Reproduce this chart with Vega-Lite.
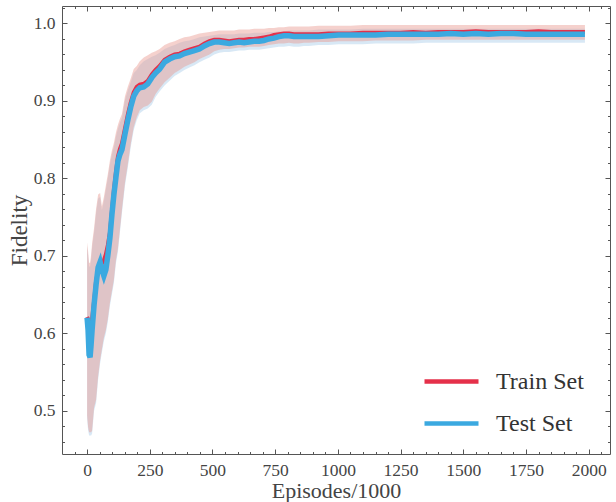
{
  "$schema": "https://vega.github.io/schema/vega-lite/v6.json",
  "width": 548,
  "height": 448,
  "autosize": "none",
  "padding": {"left": 62, "top": 6, "right": 6, "bottom": 48},
  "config": {
    "font": "Liberation Serif",
    "view": {"stroke": "#555", "strokeWidth": 1},
    "axis": {"domain": false, "grid": false, "tickColor": "#555", "labelColor": "#444", "titleColor": "#444", "labelFont": "Liberation Serif", "titleFont": "Liberation Serif", "labelFontSize": 17.5, "titleFontSize": 23, "titleFontWeight": "normal"},
    "legend": {"labelFont": "Liberation Serif"}
  },
  "data": {"values": [
    {"ep": 0, "train": 0.621, "test": 0.620, "tlo": 0.494, "thi": 0.717, "vlo": 0.490, "vhi": 0.712},
    {"ep": 4, "train": 0.618, "test": 0.604, "tlo": 0.479, "thi": 0.706, "vlo": 0.475, "vhi": 0.701},
    {"ep": 8, "train": 0.612, "test": 0.572, "tlo": 0.472, "thi": 0.691, "vlo": 0.468, "vhi": 0.686},
    {"ep": 12, "train": 0.606, "test": 0.569, "tlo": 0.472, "thi": 0.691, "vlo": 0.468, "vhi": 0.686},
    {"ep": 16, "train": 0.610, "test": 0.585, "tlo": 0.472, "thi": 0.701, "vlo": 0.468, "vhi": 0.696},
    {"ep": 20, "train": 0.618, "test": 0.604, "tlo": 0.474, "thi": 0.716, "vlo": 0.470, "vhi": 0.711},
    {"ep": 28, "train": 0.642, "test": 0.637, "tlo": 0.504, "thi": 0.736, "vlo": 0.500, "vhi": 0.731},
    {"ep": 36, "train": 0.668, "test": 0.663, "tlo": 0.514, "thi": 0.761, "vlo": 0.510, "vhi": 0.756},
    {"ep": 44, "train": 0.680, "test": 0.685, "tlo": 0.544, "thi": 0.779, "vlo": 0.540, "vhi": 0.774},
    {"ep": 52, "train": 0.686, "test": 0.692, "tlo": 0.565, "thi": 0.781, "vlo": 0.561, "vhi": 0.776},
    {"ep": 59, "train": 0.690, "test": 0.682, "tlo": 0.579, "thi": 0.764, "vlo": 0.575, "vhi": 0.759},
    {"ep": 67, "train": 0.694, "test": 0.674, "tlo": 0.594, "thi": 0.776, "vlo": 0.590, "vhi": 0.771},
    {"ep": 75, "train": 0.702, "test": 0.682, "tlo": 0.604, "thi": 0.791, "vlo": 0.600, "vhi": 0.786},
    {"ep": 83, "train": 0.714, "test": 0.701, "tlo": 0.619, "thi": 0.806, "vlo": 0.615, "vhi": 0.801},
    {"ep": 91, "train": 0.730, "test": 0.723, "tlo": 0.639, "thi": 0.823, "vlo": 0.635, "vhi": 0.818},
    {"ep": 99, "train": 0.758, "test": 0.753, "tlo": 0.654, "thi": 0.836, "vlo": 0.650, "vhi": 0.831},
    {"ep": 107, "train": 0.785, "test": 0.779, "tlo": 0.669, "thi": 0.846, "vlo": 0.665, "vhi": 0.841},
    {"ep": 115, "train": 0.808, "test": 0.801, "tlo": 0.694, "thi": 0.859, "vlo": 0.690, "vhi": 0.854},
    {"ep": 123, "train": 0.828, "test": 0.822, "tlo": 0.709, "thi": 0.869, "vlo": 0.705, "vhi": 0.864},
    {"ep": 131, "train": 0.838, "test": 0.831, "tlo": 0.734, "thi": 0.877, "vlo": 0.730, "vhi": 0.872},
    {"ep": 139, "train": 0.845, "test": 0.837, "tlo": 0.759, "thi": 0.883, "vlo": 0.755, "vhi": 0.878},
    {"ep": 151, "train": 0.864, "test": 0.857, "tlo": 0.794, "thi": 0.906, "vlo": 0.790, "vhi": 0.901},
    {"ep": 163, "train": 0.883, "test": 0.876, "tlo": 0.819, "thi": 0.919, "vlo": 0.815, "vhi": 0.914},
    {"ep": 174, "train": 0.898, "test": 0.892, "tlo": 0.844, "thi": 0.929, "vlo": 0.840, "vhi": 0.924},
    {"ep": 186, "train": 0.911, "test": 0.906, "tlo": 0.866, "thi": 0.941, "vlo": 0.862, "vhi": 0.936},
    {"ep": 198, "train": 0.918, "test": 0.913, "tlo": 0.879, "thi": 0.945, "vlo": 0.875, "vhi": 0.940},
    {"ep": 210, "train": 0.921, "test": 0.917, "tlo": 0.888, "thi": 0.951, "vlo": 0.884, "vhi": 0.946},
    {"ep": 226, "train": 0.922, "test": 0.918, "tlo": 0.892, "thi": 0.956, "vlo": 0.888, "vhi": 0.951},
    {"ep": 242, "train": 0.926, "test": 0.922, "tlo": 0.894, "thi": 0.959, "vlo": 0.890, "vhi": 0.954},
    {"ep": 258, "train": 0.934, "test": 0.930, "tlo": 0.899, "thi": 0.962, "vlo": 0.895, "vhi": 0.957},
    {"ep": 273, "train": 0.940, "test": 0.936, "tlo": 0.909, "thi": 0.964, "vlo": 0.905, "vhi": 0.959},
    {"ep": 289, "train": 0.945, "test": 0.941, "tlo": 0.916, "thi": 0.967, "vlo": 0.912, "vhi": 0.962},
    {"ep": 309, "train": 0.953, "test": 0.950, "tlo": 0.924, "thi": 0.972, "vlo": 0.920, "vhi": 0.967},
    {"ep": 329, "train": 0.957, "test": 0.954, "tlo": 0.930, "thi": 0.975, "vlo": 0.926, "vhi": 0.970},
    {"ep": 349, "train": 0.960, "test": 0.957, "tlo": 0.936, "thi": 0.977, "vlo": 0.932, "vhi": 0.972},
    {"ep": 369, "train": 0.961, "test": 0.958, "tlo": 0.940, "thi": 0.980, "vlo": 0.936, "vhi": 0.975},
    {"ep": 388, "train": 0.964, "test": 0.961, "tlo": 0.944, "thi": 0.982, "vlo": 0.940, "vhi": 0.977},
    {"ep": 408, "train": 0.966, "test": 0.963, "tlo": 0.947, "thi": 0.983, "vlo": 0.943, "vhi": 0.978},
    {"ep": 428, "train": 0.968, "test": 0.965, "tlo": 0.950, "thi": 0.985, "vlo": 0.946, "vhi": 0.980},
    {"ep": 448, "train": 0.970, "test": 0.967, "tlo": 0.954, "thi": 0.987, "vlo": 0.950, "vhi": 0.982},
    {"ep": 468, "train": 0.974, "test": 0.971, "tlo": 0.957, "thi": 0.988, "vlo": 0.953, "vhi": 0.983},
    {"ep": 488, "train": 0.977, "test": 0.974, "tlo": 0.960, "thi": 0.989, "vlo": 0.956, "vhi": 0.984},
    {"ep": 507, "train": 0.979, "test": 0.976, "tlo": 0.964, "thi": 0.990, "vlo": 0.960, "vhi": 0.985},
    {"ep": 527, "train": 0.979, "test": 0.976, "tlo": 0.966, "thi": 0.991, "vlo": 0.962, "vhi": 0.986},
    {"ep": 547, "train": 0.978, "test": 0.975, "tlo": 0.967, "thi": 0.991, "vlo": 0.963, "vhi": 0.986},
    {"ep": 567, "train": 0.977, "test": 0.974, "tlo": 0.967, "thi": 0.991, "vlo": 0.963, "vhi": 0.986},
    {"ep": 586, "train": 0.978, "test": 0.975, "tlo": 0.968, "thi": 0.991, "vlo": 0.964, "vhi": 0.986},
    {"ep": 606, "train": 0.979, "test": 0.976, "tlo": 0.969, "thi": 0.992, "vlo": 0.965, "vhi": 0.987},
    {"ep": 626, "train": 0.979, "test": 0.975, "tlo": 0.969, "thi": 0.992, "vlo": 0.965, "vhi": 0.987},
    {"ep": 646, "train": 0.980, "test": 0.976, "tlo": 0.970, "thi": 0.992, "vlo": 0.966, "vhi": 0.987},
    {"ep": 666, "train": 0.980, "test": 0.977, "tlo": 0.970, "thi": 0.993, "vlo": 0.966, "vhi": 0.988},
    {"ep": 686, "train": 0.981, "test": 0.977, "tlo": 0.970, "thi": 0.993, "vlo": 0.966, "vhi": 0.988},
    {"ep": 705, "train": 0.982, "test": 0.978, "tlo": 0.971, "thi": 0.993, "vlo": 0.967, "vhi": 0.988},
    {"ep": 725, "train": 0.983, "test": 0.980, "tlo": 0.972, "thi": 0.994, "vlo": 0.968, "vhi": 0.989},
    {"ep": 745, "train": 0.985, "test": 0.981, "tlo": 0.973, "thi": 0.994, "vlo": 0.969, "vhi": 0.989},
    {"ep": 765, "train": 0.986, "test": 0.983, "tlo": 0.974, "thi": 0.995, "vlo": 0.970, "vhi": 0.990},
    {"ep": 785, "train": 0.987, "test": 0.984, "tlo": 0.974, "thi": 0.995, "vlo": 0.970, "vhi": 0.990},
    {"ep": 805, "train": 0.987, "test": 0.984, "tlo": 0.975, "thi": 0.996, "vlo": 0.971, "vhi": 0.991},
    {"ep": 825, "train": 0.986, "test": 0.983, "tlo": 0.974, "thi": 0.996, "vlo": 0.970, "vhi": 0.991},
    {"ep": 844, "train": 0.986, "test": 0.983, "tlo": 0.974, "thi": 0.996, "vlo": 0.970, "vhi": 0.991},
    {"ep": 864, "train": 0.986, "test": 0.983, "tlo": 0.975, "thi": 0.996, "vlo": 0.971, "vhi": 0.991},
    {"ep": 884, "train": 0.986, "test": 0.983, "tlo": 0.975, "thi": 0.996, "vlo": 0.971, "vhi": 0.991},
    {"ep": 923, "train": 0.986, "test": 0.983, "tlo": 0.976, "thi": 0.997, "vlo": 0.972, "vhi": 0.992},
    {"ep": 963, "train": 0.987, "test": 0.984, "tlo": 0.976, "thi": 0.997, "vlo": 0.972, "vhi": 0.992},
    {"ep": 1003, "train": 0.987, "test": 0.985, "tlo": 0.977, "thi": 0.997, "vlo": 0.973, "vhi": 0.992},
    {"ep": 1050, "train": 0.987, "test": 0.985, "tlo": 0.977, "thi": 0.997, "vlo": 0.973, "vhi": 0.992},
    {"ep": 1100, "train": 0.988, "test": 0.985, "tlo": 0.977, "thi": 0.998, "vlo": 0.973, "vhi": 0.993},
    {"ep": 1150, "train": 0.988, "test": 0.985, "tlo": 0.978, "thi": 0.998, "vlo": 0.974, "vhi": 0.993},
    {"ep": 1200, "train": 0.988, "test": 0.986, "tlo": 0.978, "thi": 0.998, "vlo": 0.974, "vhi": 0.993},
    {"ep": 1250, "train": 0.988, "test": 0.986, "tlo": 0.978, "thi": 0.998, "vlo": 0.974, "vhi": 0.993},
    {"ep": 1300, "train": 0.989, "test": 0.986, "tlo": 0.978, "thi": 0.998, "vlo": 0.974, "vhi": 0.993},
    {"ep": 1350, "train": 0.988, "test": 0.986, "tlo": 0.979, "thi": 0.998, "vlo": 0.975, "vhi": 0.993},
    {"ep": 1400, "train": 0.989, "test": 0.986, "tlo": 0.979, "thi": 0.998, "vlo": 0.975, "vhi": 0.993},
    {"ep": 1450, "train": 0.989, "test": 0.987, "tlo": 0.979, "thi": 0.998, "vlo": 0.975, "vhi": 0.993},
    {"ep": 1500, "train": 0.989, "test": 0.986, "tlo": 0.979, "thi": 0.998, "vlo": 0.975, "vhi": 0.993},
    {"ep": 1550, "train": 0.990, "test": 0.987, "tlo": 0.979, "thi": 0.998, "vlo": 0.975, "vhi": 0.993},
    {"ep": 1600, "train": 0.989, "test": 0.986, "tlo": 0.979, "thi": 0.998, "vlo": 0.975, "vhi": 0.993},
    {"ep": 1650, "train": 0.989, "test": 0.987, "tlo": 0.979, "thi": 0.998, "vlo": 0.975, "vhi": 0.993},
    {"ep": 1700, "train": 0.989, "test": 0.987, "tlo": 0.979, "thi": 0.998, "vlo": 0.975, "vhi": 0.993},
    {"ep": 1750, "train": 0.989, "test": 0.986, "tlo": 0.979, "thi": 0.998, "vlo": 0.975, "vhi": 0.993},
    {"ep": 1800, "train": 0.990, "test": 0.986, "tlo": 0.979, "thi": 0.998, "vlo": 0.975, "vhi": 0.993},
    {"ep": 1850, "train": 0.989, "test": 0.986, "tlo": 0.979, "thi": 0.998, "vlo": 0.975, "vhi": 0.993},
    {"ep": 1900, "train": 0.989, "test": 0.986, "tlo": 0.979, "thi": 0.998, "vlo": 0.975, "vhi": 0.993},
    {"ep": 1950, "train": 0.989, "test": 0.986, "tlo": 0.979, "thi": 0.998, "vlo": 0.975, "vhi": 0.993},
    {"ep": 1985, "train": 0.989, "test": 0.986, "tlo": 0.979, "thi": 0.998, "vlo": 0.975, "vhi": 0.993}
  ]},
  "resolve": {"axis": {"x": "independent", "y": "independent"}},
  "layer": [
    {
      "mark": {"type": "area", "color": "#a8cde8", "opacity": 0.45},
      "encoding": {
        "x": {"field": "ep", "type": "quantitative", "scale": {"domain": [-100, 2085], "nice": false, "zero": false},
          "axis": {"orient": "bottom", "values": [0, 250, 500, 750, 1000, 1250, 1500, 1750, 2000], "tickSize": -5, "labelPadding": 12, "title": "Episodes/1000", "titlePadding": 2, "titleFontSize": 22, "format": "d"}},
        "y": {"field": "vlo", "type": "quantitative", "scale": {"domain": [0.444, 1.0225], "nice": false, "zero": false},
          "axis": {"orient": "left", "values": [0.5, 0.6, 0.7, 0.8, 0.9, 1.0], "tickSize": -5, "labelPadding": 12, "format": ".1f", "title": "Fidelity", "titlePadding": 2}},
        "y2": {"field": "vhi"}
      }
    },
    {
      "mark": {"type": "area", "color": "#e89a90", "opacity": 0.45},
      "encoding": {
        "x": {"field": "ep", "type": "quantitative",
          "axis": {"orient": "bottom", "values": [-50, 0, 50, 100, 150, 200, 250, 300, 350, 400, 450, 500, 550, 600, 650, 700, 750, 800, 850, 900, 950, 1000, 1050, 1100, 1150, 1200, 1250, 1300, 1350, 1400, 1450, 1500, 1550, 1600, 1650, 1700, 1750, 1800, 1850, 1900, 1950, 2000, 2050], "tickSize": -2.5, "labels": false, "title": null}},
        "y": {"field": "tlo", "type": "quantitative",
          "axis": {"orient": "left", "values": [0.46, 0.48, 0.5, 0.52, 0.54, 0.56, 0.58, 0.6, 0.62, 0.64, 0.66, 0.68, 0.7, 0.72, 0.74, 0.76, 0.78, 0.8, 0.82, 0.84, 0.86, 0.88, 0.9, 0.92, 0.94, 0.96, 0.98, 1.0, 1.02], "tickSize": -2.5, "labels": false, "title": null}},
        "y2": {"field": "thi"}
      }
    },
    {
      "transform": [{"fold": ["train"], "as": ["set", "val"]}],
      "mark": {"type": "line", "strokeWidth": 4},
      "encoding": {
        "x": {"field": "ep", "type": "quantitative",
          "axis": {"orient": "top", "values": [0, 250, 500, 750, 1000, 1250, 1500, 1750, 2000], "tickSize": -5, "labels": false, "title": null}},
        "y": {"field": "val", "type": "quantitative",
          "axis": {"orient": "right", "values": [0.5, 0.6, 0.7, 0.8, 0.9, 1.0], "tickSize": -5, "labels": false, "title": null}},
        "color": {"field": "set", "type": "nominal",
          "scale": {"domain": ["train", "test"], "range": ["#e5304a", "#3ba9e0"]},
          "legend": {"orient": "none", "legendX": 360, "legendY": 346, "title": null, "symbolType": "stroke", "symbolSize": 2916, "symbolStrokeWidth": 4.5, "labelFontSize": 24, "labelColor": "#333", "labelOffset": 15, "rowPadding": 0, "padding": 0,
            "labelExpr": "datum.label == 'train' ? 'Train Set' : 'Test Set'"}}
      }
    },
    {
      "transform": [{"fold": ["test"], "as": ["set", "val"]}],
      "mark": {"type": "line", "strokeWidth": 5.5},
      "encoding": {
        "x": {"field": "ep", "type": "quantitative",
          "axis": {"orient": "top", "values": [-50, 0, 50, 100, 150, 200, 250, 300, 350, 400, 450, 500, 550, 600, 650, 700, 750, 800, 850, 900, 950, 1000, 1050, 1100, 1150, 1200, 1250, 1300, 1350, 1400, 1450, 1500, 1550, 1600, 1650, 1700, 1750, 1800, 1850, 1900, 1950, 2000, 2050], "tickSize": -2.5, "labels": false, "title": null}},
        "y": {"field": "val", "type": "quantitative",
          "axis": {"orient": "right", "values": [0.46, 0.48, 0.5, 0.52, 0.54, 0.56, 0.58, 0.6, 0.62, 0.64, 0.66, 0.68, 0.7, 0.72, 0.74, 0.76, 0.78, 0.8, 0.82, 0.84, 0.86, 0.88, 0.9, 0.92, 0.94, 0.96, 0.98, 1.0, 1.02], "tickSize": -2.5, "labels": false, "title": null}},
        "color": {"field": "set", "type": "nominal"}
      }
    }
  ]
}
